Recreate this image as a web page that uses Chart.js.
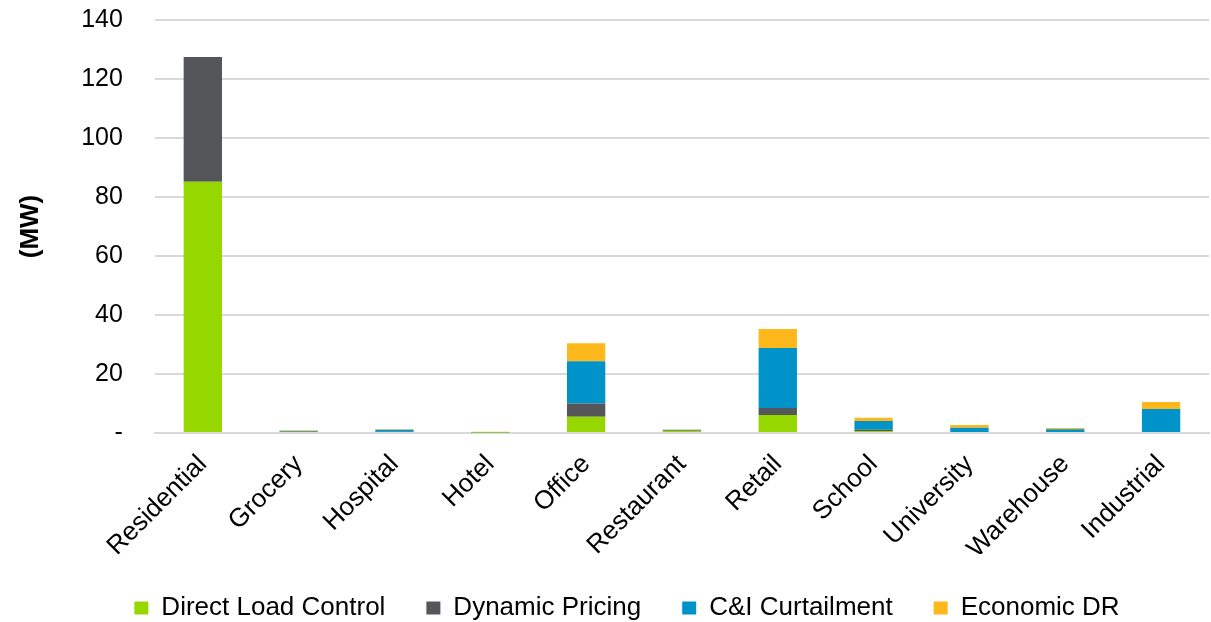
<!DOCTYPE html>
<html><head><meta charset="utf-8">
<script src="https://cdn.jsdelivr.net/npm/chart.js@4"></script>
<style>html,body{margin:0;padding:0;background:#fff}#wrap{width:1211px;height:622px}</style>
</head><body><div id="wrap"><canvas id="c" width="1211" height="622"></canvas></div>
<script>
const categories = ["Residential","Grocery","Hospital","Hotel","Office","Restaurant","Retail","School","University","Warehouse","Industrial"];
const directLoadControl = [85.2, 0, 0, 0.15, 5.5, 0.8, 6.1, 0.7, 0, 0, 0];
const dynamicPricing    = [42.3, 0, 0.4, 0.1, 4.5, 0.3, 2.35, 0.4, 0, 0, 0];
const cniCurtailment    = [0, 0.6, 0.7, 0.1, 14.3, 0, 20.4, 2.95, 1.8, 1.25, 8.1];
const economicDR        = [0, 0.3, 0.2, 0.05, 6.1, 0, 6.4, 1.15, 0.9, 0.45, 2.4];
const yTicks = [0,20,40,60,80,100,120,140];

Chart.defaults.font.family = "'Liberation Sans', Arial, sans-serif";
Chart.defaults.color = "#000";
const legendShift = {
  id:'legendShift',
  afterLayout(chart){ if(chart.legend){ chart.legend.left += 17; chart.legend.right += 17; } }
};
new Chart(document.getElementById('c'), {
  type: 'bar',
  plugins:[legendShift],
  data: {
    labels: categories,
    datasets: [
      {label:'Direct Load Control', data: directLoadControl, backgroundColor:'#97d700'},
      {label:'Dynamic Pricing', data: dynamicPricing, backgroundColor:'#54565a'},
      {label:'C&I Curtailment', data: cniCurtailment, backgroundColor:'#0093c9'},
      {label:'Economic DR', data: economicDR, backgroundColor:'#ffb81c'}
    ]
  },
  options: {
    responsive:false, animation:false,
    layout:{padding:{top:5,right:2,left:11,bottom:0}},
    datasets:{bar:{barPercentage:0.8,categoryPercentage:0.5}},
    plugins:{
      tooltip:{enabled:false},
      legend:{position:'bottom',maxHeight:68,labels:{boxWidth:14,boxHeight:13,padding:41,font:{size:26}}}
    },
    scales:{
      x:{stacked:true,
        afterFit:(s)=>{s.height=121;},
        grid:{display:false,drawTicks:false},
        border:{color:'#d9d9d9',width:2},
        ticks:{minRotation:45,maxRotation:45,font:{size:26},padding:16}
      },
      y:{stacked:true,min:0,max:140,
        afterBuildTicks:(s)=>{s.ticks=yTicks.map(v=>({value:v}));},
        grid:{color:'#d9d9d9',lineWidth:2,drawTicks:true,tickLength:27,tickColor:'rgba(0,0,0,0)'},
        border:{display:false},
        ticks:{font:{size:25},padding:5,callback:(v)=>v===0?'-':v},
        title:{display:true,text:'(MW)',font:{size:26,weight:'bold'},padding:{top:4,bottom:30}}
      }
    }
  }
});
</script></body></html>
